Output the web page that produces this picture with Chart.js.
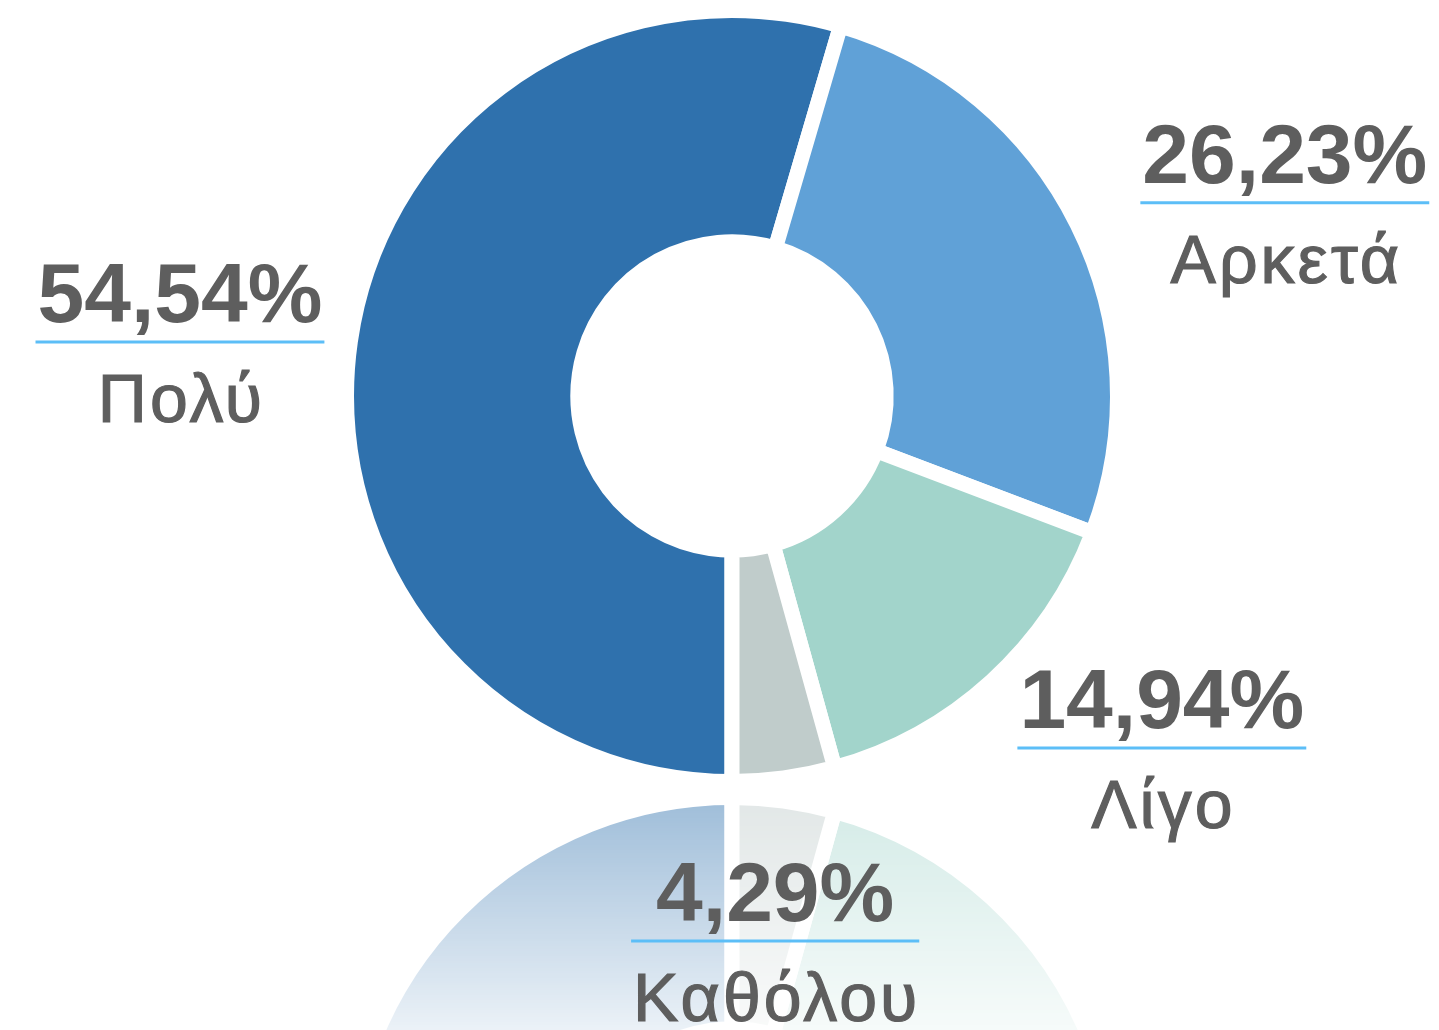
<!DOCTYPE html>
<html>
<head>
<meta charset="utf-8">
<script src="https://cdn.jsdelivr.net/npm/chart.js@4.4.1/dist/chart.umd.min.js"></script>
<style>
html, body { margin: 0; padding: 0; background: #fff; overflow: hidden; }
#main { position: absolute; left: 0; top: 0; z-index: 2; }
#mirror {
  position: absolute; left: 339px; top: 790px; width: 786px; height: 240px; overflow: hidden; z-index: 1;
  -webkit-mask-image: linear-gradient(to bottom, rgba(0,0,0,0.48) 0px, rgba(0,0,0,0) 300px);
  mask-image: linear-gradient(to bottom, rgba(0,0,0,0.48) 0px, rgba(0,0,0,0) 300px);
}
#mirror canvas { display: block; transform: scaleY(-1); }
</style>
</head>
<body>
<div id="mirror"><canvas id="reflection" width="786" height="786"></canvas></div>
<canvas id="main" width="1439" height="1030"></canvas>
<script>
// data
var categories = ["Πολύ", "Αρκετά", "Λίγο", "Καθόλου"];
var shares = [54.54, 26.23, 14.94, 4.29];
var sliceColors = ["#2f71ad", "#60a1d7", "#a2d4cb", "#c0cccb"];

// where each label block sits, relative to the ring centre, in radius units
var labelOffsets = [[-1.432, -0.140], [1.434, -0.501], [1.115, 0.913], [0.112, 1.414]];

var fontFamily = '"Liberation Sans", Arial, sans-serif';

function pct(v){
    return v.toFixed(2).replace(".", ",") + "%";
}

//draws the value + underline + category next to every slice
var sliceLabels = {
    id: "sliceLabels",
    afterDatasetsDraw: function(chart){
        var ctx = chart.ctx;
        var arcs = chart.getDatasetMeta(0).data;
        ctx.save();
        ctx.textAlign = "center";
        ctx.textBaseline = "alphabetic";
        arcs.forEach(function(arc, i){
            var r = arc.outerRadius;
            var x = arc.x + labelOffsets[i][0] * r;
            var y = arc.y + labelOffsets[i][1] * r;
            var valueText = pct(shares[i]);

            ctx.letterSpacing = "0px";
            ctx.font = "bold 84px " + fontFamily;
            var wv = ctx.measureText(valueText).width;
            ctx.fillStyle = "#5e5e5e";
            ctx.fillText(valueText, x, y - 20);

            // the category font is a bit wider and heavier than Arial
            ctx.letterSpacing = "3px";
            ctx.font = "68px " + fontFamily;
            var wc = ctx.measureText(categories[i]).width - 3;
            ctx.strokeStyle = "#5e5e5e";
            ctx.lineWidth = 1.2;
            ctx.fillText(categories[i], x + 1.5, y + 80);
            ctx.strokeText(categories[i], x + 1.5, y + 80);
            ctx.letterSpacing = "0px";

            var w = Math.max(wv, wc) + 4;
            ctx.strokeStyle = "#5cbef7";
            ctx.lineWidth = 3;
            ctx.beginPath();
            ctx.moveTo(x - w / 2, y);
            ctx.lineTo(x + w / 2, y);
            ctx.stroke();
        });
        ctx.restore();
    }
};

function ringConfig(padding, plugins){
    return {
        type: "doughnut",
        data: {
            labels: categories,
            datasets: [{
                data: shares,
                backgroundColor: sliceColors,
                borderColor: "#ffffff",
                borderWidth: 15,
                borderJoinStyle: "miter",
                hoverOffset: 0
            }]
        },
        options: {
            responsive: false,
            animation: false,
            rotation: 180,
            cutout: "40%",
            layout: { padding: padding },
            events: [],
            plugins: {
                legend: { display: false },
                tooltip: { enabled: false }
            }
        },
        plugins: plugins
    };
}

new Chart(document.getElementById("main").getContext("2d"),
    ringConfig({ left: 339, top: 3, right: 314, bottom: 241 }, [sliceLabels]));

// mirrored copy underneath, faded by the css mask
new Chart(document.getElementById("reflection").getContext("2d"),
    ringConfig(0, []));
</script>
</body>
</html>
